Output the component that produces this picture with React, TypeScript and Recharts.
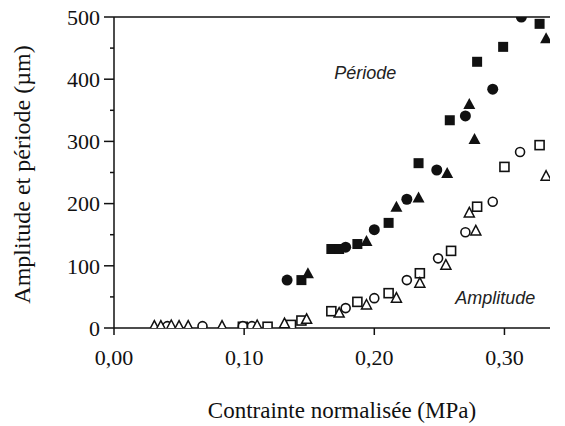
import React from 'react';
import { ScatterChart, Scatter, XAxis, YAxis, ReferenceLine, ReferenceDot } from 'recharts';

// Période (filled markers) and amplitude (open markers)
const periodeCircle = [
  { x: 0.133, y: 77 }, { x: 0.178, y: 130 }, { x: 0.200, y: 158 }, { x: 0.225, y: 207 },
  { x: 0.248, y: 254 }, { x: 0.270, y: 341 }, { x: 0.291, y: 384 }, { x: 0.313, y: 500 },
];
const periodeSquare = [
  { x: 0.144, y: 77 }, { x: 0.167, y: 127 }, { x: 0.173, y: 127 }, { x: 0.187, y: 135 },
  { x: 0.211, y: 169 }, { x: 0.234, y: 265 }, { x: 0.258, y: 334 }, { x: 0.279, y: 428 },
  { x: 0.299, y: 452 }, { x: 0.327, y: 489 },
];
const periodeTriangle = [
  { x: 0.149, y: 88 }, { x: 0.194, y: 140 }, { x: 0.217, y: 195 }, { x: 0.234, y: 210 },
  { x: 0.256, y: 249 }, { x: 0.273, y: 360 }, { x: 0.277, y: 304 }, { x: 0.332, y: 466 },
];
const amplitudeCircle = [
  { x: 0.041, y: 3 }, { x: 0.068, y: 3 }, { x: 0.099, y: 3 }, { x: 0.106, y: 3 },
  { x: 0.178, y: 32 }, { x: 0.200, y: 48 }, { x: 0.225, y: 77 }, { x: 0.249, y: 112 },
  { x: 0.270, y: 154 }, { x: 0.291, y: 203 }, { x: 0.312, y: 283 },
];
const amplitudeSquare = [
  { x: 0.099, y: 2 }, { x: 0.118, y: 2 }, { x: 0.136, y: 5 }, { x: 0.144, y: 12 },
  { x: 0.167, y: 27 }, { x: 0.187, y: 42 }, { x: 0.211, y: 56 }, { x: 0.235, y: 88 },
  { x: 0.259, y: 124 }, { x: 0.279, y: 195 }, { x: 0.300, y: 259 }, { x: 0.327, y: 294 },
];
const amplitudeTriangle = [
  { x: 0.031, y: 3 }, { x: 0.036, y: 3 }, { x: 0.044, y: 4 }, { x: 0.050, y: 3 },
  { x: 0.057, y: 3 }, { x: 0.083, y: 3 }, { x: 0.110, y: 4 }, { x: 0.131, y: 7 },
  { x: 0.148, y: 14 }, { x: 0.173, y: 24 }, { x: 0.194, y: 37 }, { x: 0.217, y: 48 },
  { x: 0.235, y: 72 }, { x: 0.255, y: 101 }, { x: 0.273, y: 185 }, { x: 0.278, y: 156 },
  { x: 0.332, y: 244 },
];

const xTicks = [0, 0.1, 0.2, 0.3];
const yTicks = [0, 50, 100, 150, 200, 250, 300, 350, 400, 450, 500];

const serif = '"Liberation Serif", "Times New Roman", serif';
const ink = '#111';

const FilledCircle = (p: any) => <circle cx={p.cx} cy={p.cy} r={5.5} fill={ink} />;
const FilledSquare = (p: any) => <rect x={p.cx - 5} y={p.cy - 5} width={10} height={10} fill={ink} />;
const FilledTriangle = (p: any) => (
  <polygon points={`${p.cx},${p.cy - 6} ${p.cx + 6},${p.cy + 5} ${p.cx - 6},${p.cy + 5}`} fill={ink} />
);
const OpenCircle = (p: any) => <circle cx={p.cx} cy={p.cy} r={4.5} fill="#fff" stroke={ink} strokeWidth={1.6} />;
const OpenSquare = (p: any) => (
  <rect x={p.cx - 4.5} y={p.cy - 4.5} width={9} height={9} fill="#fff" stroke={ink} strokeWidth={1.6} />
);
const OpenTriangle = (p: any) => (
  <polygon points={`${p.cx},${p.cy - 5.5} ${p.cx + 5},${p.cy + 4} ${p.cx - 5},${p.cy + 4}`}
    fill="#fff" stroke={ink} strokeWidth={1.5} />
);

const YTick = (props: any) => {
  const { x, y, payload } = props;
  const major = payload.value % 100 === 0;
  return (
    <g>
      <line x1={x - (major ? 10 : 4)} x2={x} y1={y} y2={y} stroke={ink} strokeWidth={1.5} />
      {major && (
        <text x={x - 14} y={y} dy="0.35em" textAnchor="end" fontFamily={serif} fontSize={22} fill={ink}>
          {payload.value}
        </text>
      )}
    </g>
  );
};

const XTick = (props: any) => {
  const { x, y, payload } = props;
  return (
    <g>
      <line x1={x} x2={x} y1={y} y2={y + 7} stroke={ink} strokeWidth={1.5} />
      <text x={x} y={y + 29} dy="0.35em" textAnchor="middle" fontFamily={serif} fontSize={22} fill={ink}>
        {payload.value.toFixed(2).replace('.', ',')}
      </text>
    </g>
  );
};

const YTitle = (props: any) => {
  const { viewBox } = props;
  const cx = viewBox.x + 22;
  const cy = viewBox.y + viewBox.height / 2 + 2;
  return (
    <text x={cx} y={cy} transform={`rotate(-90 ${cx} ${cy})`} textAnchor="middle" dy="0.35em"
      fontFamily={serif} fontSize={24} fill={ink}>
      Amplitude et période (µm)
    </text>
  );
};

const XTitle = (props: any) => {
  const { viewBox } = props;
  const cx = viewBox.x + viewBox.width / 2 + 10;
  const cy = viewBox.y + 82;
  return (
    <text x={cx} y={cy} textAnchor="middle" dy="0.35em" fontFamily={serif} fontSize={23} fill={ink}>
      Contrainte normalisée (MPa)
    </text>
  );
};

const tag = (text: string) => (props: any) => {
  const { viewBox } = props;
  return (
    <text x={viewBox.x} y={viewBox.y} dy="0.35em" textAnchor="middle"
      fontFamily='"Liberation Sans", Arial, sans-serif' fontStyle="italic" fontSize={18} fill="#222">
      {text}
    </text>
  );
};

export default function App() {
  return (
    <div style={{ position: 'absolute', left: 0, top: 0, background: '#fff' }}>
      <ScatterChart width={565} height={426} margin={{ top: 17, right: 15, bottom: 0, left: 0 }}>
        <XAxis type="number" dataKey="x" domain={[0, 0.335]} ticks={xTicks} allowDataOverflow
          axisLine={{ stroke: ink, strokeWidth: 1.5 }} tickLine={false} tickSize={0} tickMargin={0}
          tick={<XTick />} height={98} label={<XTitle />} />
        <YAxis type="number" dataKey="y" domain={[0, 500]} ticks={yTicks} allowDataOverflow
          axisLine={{ stroke: ink, strokeWidth: 1.5 }} tickLine={false} tickSize={0} tickMargin={0}
          tick={<YTick />} width={114} label={<YTitle />} />
        <ReferenceLine y={500} stroke={ink} strokeWidth={1.5} />
        <ReferenceDot x={0.193} y={410} r={0} fill="none" stroke="none" label={tag('Période')} />
        <ReferenceDot x={0.293} y={48} r={0} fill="none" stroke="none" label={tag('Amplitude')} />
        <Scatter data={amplitudeSquare} shape={OpenSquare} isAnimationActive={false} />
        <Scatter data={amplitudeCircle} shape={OpenCircle} isAnimationActive={false} />
        <Scatter data={amplitudeTriangle} shape={OpenTriangle} isAnimationActive={false} />
        <Scatter data={periodeSquare} shape={FilledSquare} isAnimationActive={false} />
        <Scatter data={periodeCircle} shape={FilledCircle} isAnimationActive={false} />
        <Scatter data={periodeTriangle} shape={FilledTriangle} isAnimationActive={false} />
      </ScatterChart>
    </div>
  );
}
